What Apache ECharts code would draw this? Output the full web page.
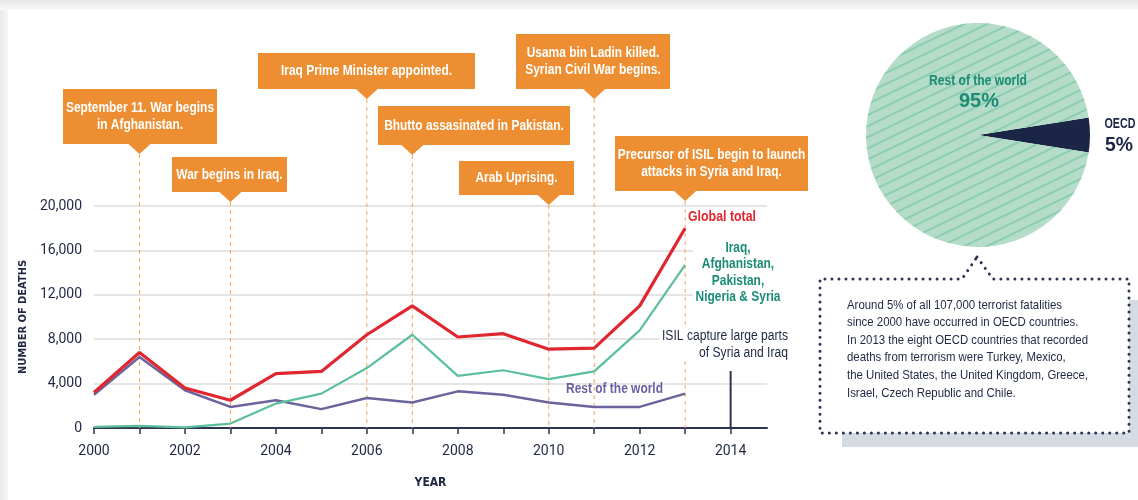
<!DOCTYPE html>
<html><head><meta charset="utf-8">
<script src="https://cdn.jsdelivr.net/npm/echarts@6/dist/echarts.min.js"></script>
<style>html,body{margin:0;padding:0;background:#fff}#c{width:1138px;height:500px}</style>
</head><body><div id="c"></div>
<script>
// ---- data ----
const years = [2000,2001,2002,2003,2004,2005,2006,2007,2008,2009,2010,2011,2012,2013];
const globalTotal  = [3200,6800,3600,2500,4900,5100,8400,11000,8200,8500,7100,7200,11000,18000];
const fiveCountries = [100,200,50,400,2200,3100,5400,8400,4700,5200,4400,5100,8800,14700];
const restOfWorld  = [3000,6400,3400,1900,2500,1700,2700,2300,3300,3000,2300,1900,1900,3100];
const xTickYears = [2000,2001,2002,2003,2004,2005,2006,2007,2008,2009,2010,2011,2012,2013,2014];
const xLabelYears = [2000,2002,2004,2006,2008,2010,2012,2014];
const seriesNames = ['Rest of the world','Iraq,\nAfghanistan,\nPakistan,\nNigeria & Syria','Global total'];
const eventYears = [2001,2003,2006,2007,2010,2011,2013];
const eventTexts = [
  'September 11. War begins\nin Afghanistan.',
  'War begins in Iraq.',
  'Iraq Prime Minister appointed.',
  'Bhutto assasinated in Pakistan.',
  'Arab Uprising.',
  'Usama bin Ladin killed.\nSyrian Civil War begins.',
  'Precursor of ISIL begin to launch\nattacks in Syria and Iraq.'
];
const isilYear = 2014;
const isilText = 'ISIL capture large parts\nof Syria and Iraq';
const pieNames = ['OECD','Rest of the world'];
const pieValues = [5,95];
const pieLabels = ['5%','95%'];
const noteText = 'Around 5% of all 107,000 terrorist fatalities\nsince 2000 have occurred in OECD countries.\nIn 2013 the eight OECD countries that recorded\ndeaths from terrorism were Turkey, Mexico,\nthe United States, the United Kingdom, Greece,\nIsrael, Czech Republic and Chile.';

// ---- layout (pixels) ----
const boxLayout = [ // x0,x1,y0,y1
  [63,217,89,144],[172,287,157,192],[258,475,53,89],[378,570,106,145],
  [459,574,161,195],[516,670,34,89],[615,808,136,191]
];
const COND = '"DejaVu Sans Condensed",sans-serif';
const LIB = '"Liberation Sans",Arimo,sans-serif';
const REG = 'Roboto,"Liberation Sans",sans-serif';
const NAVY = '#1f2744';
const ORANGE = '#ec8e31';

const mctx = document.createElement('canvas').getContext('2d');
function lineW(line, font) { mctx.font = font; return mctx.measureText(line).width; }
// text element horizontally condensed so that refLine has width refW
function fitText(x, y, text, font, refLine, refW, style, z) {
  const s = refW / lineW(refLine, font);
  return {type: 'text', x: x, y: y, scaleX: s, scaleY: 1, z: z || 12,
    style: Object.assign({text: text, font: font, verticalAlign: 'middle'}, style)};
}

const chart = echarts.init(document.getElementById('c'));
const base = {
  animation: false,
  backgroundColor: '#ffffff',
  grid: {left: 94, right: 371, top: 206, bottom: 72},
  xAxis: {
    type: 'value', min: 2000, max: 2014.8,
    name: 'YEAR', nameLocation: 'middle', nameGap: 49,
    nameTextStyle: {fontFamily: COND, fontWeight: 'bold', fontSize: 12, color: NAVY},
    axisLine: {show: true, lineStyle: {color: '#2d3350', width: 2}},
    axisTick: {show: true, length: 6, customValues: xTickYears, lineStyle: {color: '#2d3350', width: 1.5}},
    axisLabel: {customValues: xLabelYears, margin: 16, fontFamily: REG, fontSize: 14, color: NAVY, formatter: v => String(v)},
    splitLine: {show: false}
  },
  yAxis: {
    type: 'value', min: 0, max: 20000, interval: 4000,
    name: 'NUMBER OF DEATHS', nameLocation: 'middle', nameGap: 57, nameRotate: 90,
    nameTextStyle: {fontFamily: COND, fontWeight: 'bold', fontSize: 11, color: NAVY},
    axisLine: {show: false}, axisTick: {show: false},
    axisLabel: {margin: 12, fontFamily: REG, fontSize: 14, color: NAVY,
      formatter: v => v.toLocaleString('en-US')},
    splitLine: {lineStyle: {color: '#e5e5e5', width: 2}}
  },
  series: [
    {name: seriesNames[0], type: 'line', data: years.map((y,i)=>[y,restOfWorld[i]]), symbol: 'none',
     lineStyle: {color: '#6b639c', width: 2.5}, z: 3},
    {name: seriesNames[1], type: 'line', data: years.map((y,i)=>[y,fiveCountries[i]]), symbol: 'none',
     lineStyle: {color: '#5cbf9b', width: 2.2}, z: 4},
    {name: seriesNames[2], type: 'line', data: years.map((y,i)=>[y,globalTotal[i]]), symbol: 'none',
     lineStyle: {color: '#e0262f', width: 3.2}, z: 5},
    {type: 'pie', center: [978,135], radius: 112, startAngle: 9, clockwise: true,
     label: {show: false}, labelLine: {show: false}, silent: true,
     data: [
       {name: pieNames[0], value: pieValues[0], itemStyle: {color: '#1b2545'}},
       {name: pieNames[1], value: pieValues[1], itemStyle: {color: '#b4dcc9',
         decal: {symbol: 'rect', symbolSize: 1, dashArrayX: [[1,0]], dashArrayY: [1.2,7.5], rotation: -0.45, color: '#8ccdb0'}}}
     ]}
  ]
};
chart.setOption(base);

const px = y => chart.convertToPixel({xAxisIndex: 0}, y);
const py = v => chart.convertToPixel({yAxisIndex: 0}, v);
const axisY = py(0);
const g = [];
// card background edges
g.push({type:'rect', shape:{x:0,y:0,width:1138,height:10}, z:0, style:{fill:new echarts.graphic.LinearGradient(0,0,0,1,[{offset:0,color:'#e6e6e6'},{offset:1,color:'#f9f9f9'}])}});
g.push({type:'rect', shape:{x:0,y:10,width:8,height:490}, z:0, style:{fill:new echarts.graphic.LinearGradient(0,0,1,0,[{offset:0,color:'#e9e9e9'},{offset:1,color:'#f6f6f6'}])}});

// callouts
const calloutFont = 'bold 14px ' + LIB;
const calloutScale = 171 / lineW(eventTexts[2], calloutFont);
eventYears.forEach((yr, i) => {
  const [x0,x1,y0,y1] = boxLayout[i];
  const tx = px(yr);
  const tipY = y1 + 10;
  g.push({type:'line', shape:{x1:tx,y1:tipY,x2:tx,y2:axisY}, z:1, style:{stroke:'#f3a25a', lineWidth:1, lineDash:[4,4]}});
  g.push({type:'rect', shape:{x:x0,y:y0,width:x1-x0,height:y1-y0}, z:10, style:{fill:ORANGE}});
  g.push({type:'polygon', shape:{points:[[tx-11,y1],[tx+11,y1],[tx,tipY]]}, z:10, style:{fill:ORANGE}});
  g.push({type:'text', x:(x0+x1)/2, y:(y0+y1)/2 + 0.5, scaleX: calloutScale, z:11,
    style:{text:eventTexts[i], fill:'#fff', font:calloutFont, align:'center', verticalAlign:'middle', lineHeight:17}});
});

// series labels
const bold14 = 'bold 14px ' + LIB;
g.push(fitText(688, 217, seriesNames[2], bold14, 'Global total', 68, {fill:'#e0262f', align:'left'}));
g.push(fitText(738, 272.5, seriesNames[1], bold14, 'Nigeria & Syria', 85, {fill:'#1b8c76', align:'center', lineHeight:16.5, backgroundColor:'#fff', padding:[0,3]}));
g.push(fitText(566, 389, seriesNames[0], bold14, 'Rest of the world', 97, {fill:'#6b5fa0', align:'left'}));
g.push(fitText(788, 344.5, isilText, '14px ' + LIB, 'ISIL capture large parts', 126, {fill:NAVY, align:'right', lineHeight:17, backgroundColor:'#fff', padding:[0,0,0,3]}));
g.push({type:'line', shape:{x1:px(isilYear),y1:371,x2:px(isilYear),y2:axisY}, z:12, style:{stroke:'#2d3350', lineWidth:2}});

// pie labels
g.push(fitText(978, 81, pieNames[1], bold14, pieNames[1], 98, {fill:'#1b8c76', align:'center'}, 20));
g.push(fitText(979, 101, pieLabels[1], 'bold 21px ' + LIB, pieLabels[1], 40, {fill:'#1b8c76', align:'center'}, 20));
g.push(fitText(1120, 124, pieNames[0], bold14, pieNames[0], 31, {fill:'#1b2545', align:'center'}, 20));
g.push(fitText(1119, 145, pieLabels[0], 'bold 21px ' + LIB, pieLabels[0], 28, {fill:'#1b2545', align:'center'}, 20));

// note box
g.push({type:'rect', shape:{x:842,y:300,width:296,height:147}, z:20, style:{fill:'#d6dae2'}});
g.push({type:'rect', shape:{x:820,y:279,width:309,height:154}, z:21, style:{fill:'#fff'}});
g.push({type:'polyline', shape:{points:[[977,257],[993,279],[1129,279],[1129,433],[820,433],[820,279],[962,279],[977,257]]}, z:22,
  style:{stroke:'#2b3255', lineWidth:3, lineDash:[0.01,7], lineCap:'round', fill:null}});
g.push(fitText(847, 349, noteText, '13px ' + LIB, 'the United States, the United Kingdom, Greece,', 241, {fill:NAVY, align:'left', lineHeight:17.6}, 23));

chart.setOption({graphic: g});
</script></body></html>
